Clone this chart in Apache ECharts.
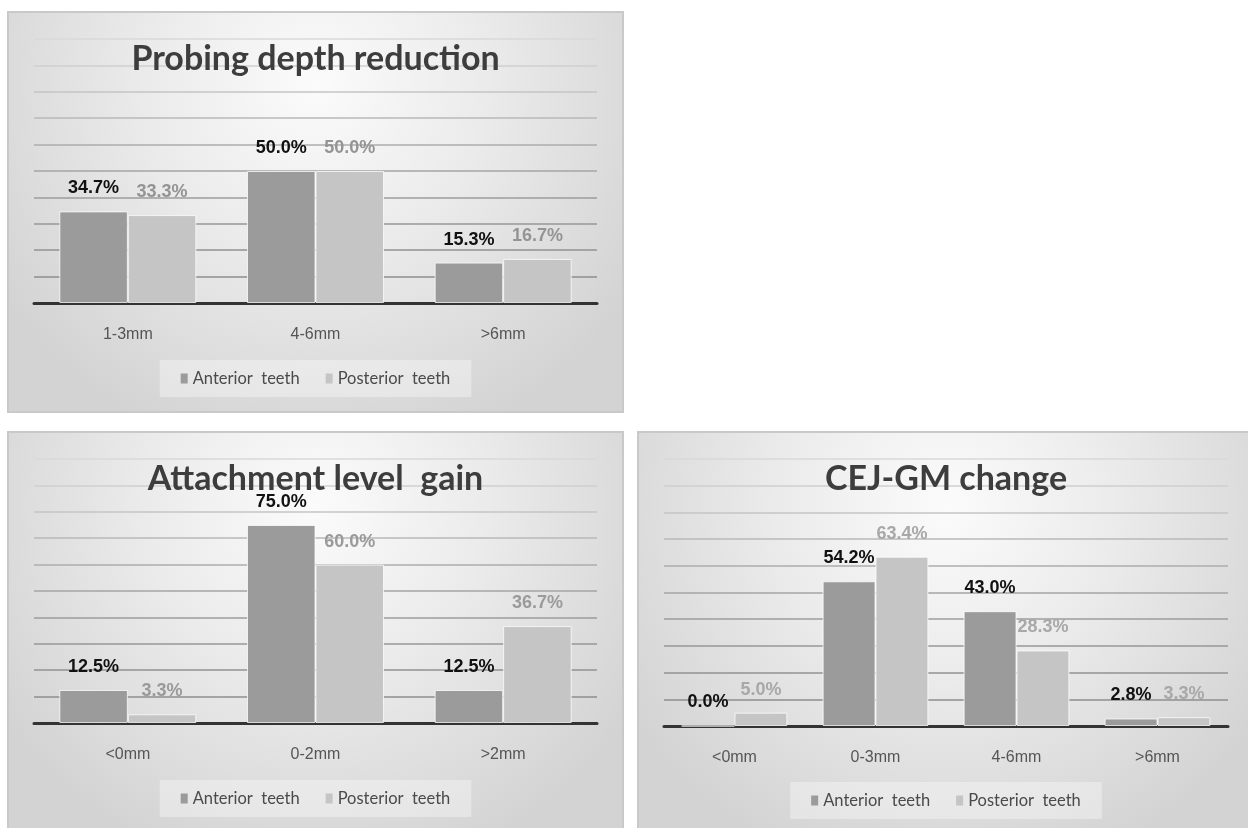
<!DOCTYPE html>
<html>
<head>
<meta charset="utf-8">
<script src="https://cdn.jsdelivr.net/npm/echarts@6/dist/echarts.min.js"></script>
<style>
  html, body { margin: 0; padding: 0; background: #ffffff; width: 1248px; height: 828px; overflow: hidden; position: relative; }
  .panel { position: absolute; box-sizing: border-box; border: 2px solid #c9c9c9; }
</style>
</head>
<body>
<div id="p1" class="panel" style="left:7px; top:11px; width:617px; height:402px;"></div>
<div id="p2" class="panel" style="left:7px; top:431px; width:617px; height:402px;"></div>
<div id="p3" class="panel" style="left:637px; top:431px; width:618px; height:405px;"></div>
<script>
// ---- data ----
var seriesNames = ['Anterior  teeth', 'Posterior  teeth'];

var pdTitle = 'Probing depth reduction';
var pdCategories = ['1-3mm', '4-6mm', '>6mm'];
var pdAnterior = [34.7, 50.0, 15.3];
var pdPosterior = [33.3, 50.0, 16.7];

var alTitle = 'Attachment level  gain';
var alCategories = ['<0mm', '0-2mm', '>2mm'];
var alAnterior = [12.5, 75.0, 12.5];
var alPosterior = [3.3, 60.0, 36.7];

var cejTitle = 'CEJ-GM change';
var cejCategories = ['<0mm', '0-3mm', '4-6mm', '>6mm'];
var cejAnterior = [0.0, 54.2, 43.0, 2.8];
var cejPosterior = [5.0, 63.4, 28.3, 3.3];

var yMin = 0, yMax = 100, yInterval = 10;

// ---- styles ----
var gridColors = ['#9a9a9a', '#8e8e8e', '#929292', '#979797', '#9d9d9d', '#a4a4a4', '#adadad', '#b8b8b8', '#c4c4c4', '#cfcfcf', '#d9d9d9'];

function makeChart(id, title, cats, ant, post, opts) {
  var chart = echarts.init(document.getElementById(id), null, { renderer: 'canvas' });
  function labelFmt(p) { return p.value.toFixed(1) + '%'; }
  chart.setOption({
    animation: false,
    backgroundColor: {
      type: 'radial', x: 0.5, y: 0.18, r: 0.95,
      colorStops: [
        { offset: 0, color: '#fbfbfb' },
        { offset: 0.45, color: '#ebebeb' },
        { offset: 1, color: '#d3d3d3' }
      ]
    },
    title: {
      text: title,
      left: 'center',
      top: opts.titleTop,
      textStyle: { fontFamily: 'Lato', fontWeight: 'bold', fontSize: 34, color: '#3d3d3d' }
    },
    legend: {
      data: seriesNames,
      left: 'center',
      top: opts.legendTop,
      itemWidth: 7,
      itemHeight: 10,
      itemGap: 26,
      padding: [10, 21, 10, 21],
      backgroundColor: 'rgba(255,255,255,0.35)',
      icon: 'rect',
      itemStyle: { borderWidth: 0 },
      textStyle: { fontFamily: 'Lato', fontSize: 16.5, color: '#4a4a4a' }
    },
    grid: { left: 25, right: 25, top: opts.gridTop, bottom: opts.gridBottom, containLabel: false },
    xAxis: {
      type: 'category',
      data: cats,
      axisLine: { show: true, lineStyle: { color: '#333333', width: 3 } },
      axisTick: { show: false },
      axisLabel: { margin: 24, fontFamily: 'Liberation Sans', fontSize: 16, color: '#555555' },
      splitLine: { show: false }
    },
    yAxis: {
      type: 'value',
      min: yMin, max: yMax, interval: yInterval,
      axisLine: { show: false },
      axisTick: { show: false },
      axisLabel: { show: false },
      splitLine: { show: true, lineStyle: { color: gridColors, width: 1.5 } }
    },
    series: [
      {
        name: seriesNames[0], type: 'bar', data: ant,
        barGap: '0%', barCategoryGap: opts.catGap,
        itemStyle: { color: '#9b9b9b', borderColor: 'rgba(255,255,255,0.75)', borderWidth: 1 },
        label: { show: true, position: 'top', distance: 14, formatter: labelFmt,
          fontFamily: 'Liberation Sans', fontWeight: 'bold', fontSize: 18, color: '#111111' }
      },
      {
        name: seriesNames[1], type: 'bar', data: post,
        barGap: '0%', barCategoryGap: opts.catGap,
        itemStyle: { color: '#c5c5c5', borderColor: 'rgba(255,255,255,0.75)', borderWidth: 1 },
        label: { show: true, position: 'top', distance: 14, formatter: labelFmt,
          fontFamily: 'Liberation Sans', fontWeight: 'bold', fontSize: 18, color: opts.postLabelColor }
      }
    ]
  });
  return chart;
}

makeChart('p1', pdTitle, pdCategories, pdAnterior, pdPosterior,
  { titleTop: 24, legendTop: 347, gridTop: 26, gridBottom: 108, catGap: '27%', postLabelColor: '#949494' });
makeChart('p2', alTitle, alCategories, alAnterior, alPosterior,
  { titleTop: 24, legendTop: 347, gridTop: 26, gridBottom: 108, catGap: '27%', postLabelColor: '#9a9a9a' });
makeChart('p3', cejTitle, cejCategories, cejAnterior, cejPosterior,
  { titleTop: 24, legendTop: 349, gridTop: 26, gridBottom: 108, catGap: '25%', postLabelColor: '#a8a8a8' });
</script>
</body>
</html>
